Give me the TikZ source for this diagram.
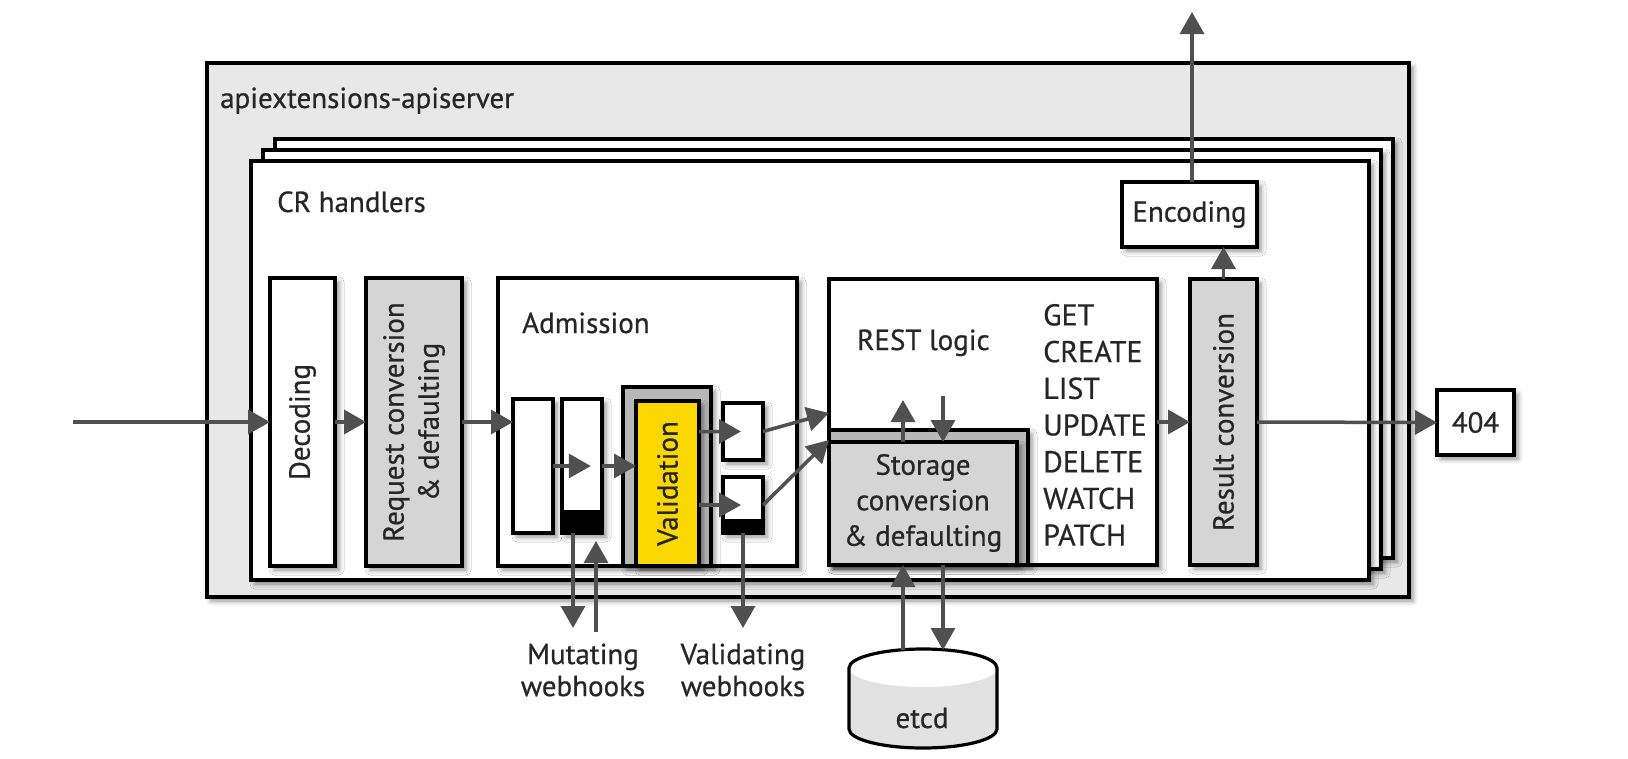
\documentclass[tikz,border=0pt]{standalone}
\usepackage{fontspec}
\setmainfont{PT Sans}[FakeBold=0.6]
\usetikzlibrary{arrows.meta,fit,calc,shadows.blur}
\definecolor{outerfill}{HTML}{E8E8E8}
\definecolor{boxgray}{HTML}{D5D5D5}
\definecolor{bandgray}{HTML}{B8B8B8}
\definecolor{valyellow}{HTML}{FAD700}
\definecolor{arrowgray}{HTML}{505050}
\definecolor{txt}{HTML}{262626}
\definecolor{etcdgray}{HTML}{E2E2E2}
\begin{document}
\begin{tikzpicture}[x=1pt,y=-1pt,
  bx/.style={draw=black, line width=3.4pt, fill=white, inner sep=0pt, outer sep=0pt,
    blur shadow={shadow xshift=4pt, shadow yshift=-4pt, shadow blur radius=5pt, shadow opacity=45}},
  band/.style={fill=black, draw=black, line width=0.5pt, inner sep=0pt, outer sep=0pt},
  lbl/.style={text=txt, font=\fontsize{29}{35}\selectfont, inner sep=0pt},
  arr/.style={draw=arrowgray, line width=3.5pt, -{Triangle[length=22pt,width=24pt]}}
]
\useasboundingbox (0,0) rectangle (1628,758);

% outer container
\node[bx, fill=outerfill, line width=3.6pt, fit={(207,63) (1409,597)}] (outer) {};
\node[lbl, anchor=base west] (outerlbl) at (220,108) {apiextensions-apiserver};

% stacked CR handler layers
\node[bx, fit={(275,139) (1393,558)}] (layer3) {};
\node[bx, fit={(263,150) (1381,569)}] (layer2) {};
\node[bx, fit={(251,161) (1369,580)}] (layer1) {};
\node[lbl, anchor=base west] (crlbl) at (277,212) {CR handlers};

% decoding and request conversion
\node[bx, fit={(270,278) (335,566)}] (dec) {};
\node[lbl, rotate=90] (dectxt) at (dec.center) {Decoding};
\node[bx, fill=boxgray, fit={(366,278) (462,566)}] (req) {};
\node[lbl, rotate=90, align=center] (reqtxt) at (req.center) {Request conversion\\\& defaulting};

% admission
\node[bx, fit={(498,278) (797,566)}] (adm) {};
\node[lbl, anchor=base west] (admlbl) at (522,333) {Admission};
\node[bx, fit={(513,399) (553,533)}] (wa) {};
\node[bx, fit={(562,399) (602,533)}] (wb) {};
\node[band, fit={(562,510) (602,533)}] (wbband) {};
\node[bx, fill=bandgray, fit={(623,387) (711,566)}] (valframe) {};
\node[bx, fill=valyellow, fit={(636,401) (699,566)}] (val) {};
\node[lbl, rotate=90] (valtxt) at (val.center) {Validation};
\node[bx, fit={(723,403) (763,460)}] (wc) {};
\node[bx, fit={(723,477) (763,533)}] (wd) {};
\node[band, fit={(723,519) (763,533)}] (wdband) {};

% REST logic and storage
\node[bx, fit={(829,279) (1157,565)}] (rest) {};
\node[lbl, anchor=base west] (restlbl) at (857,350) {REST logic};
\node[lbl, anchor=west, align=left, font=\fontsize{30}{36.7}\selectfont] (verbs) at (1043,425) {GET\\CREATE\\LIST\\UPDATE\\DELETE\\WATCH\\PATCH};
\node[bx, fill=bandgray, fit={(829,430) (1028,565)}] (storframe) {};
\node[bx, fill=boxgray, fit={(829,442) (1017,565)}] (stor) {};
\node[lbl, align=center, font=\fontsize{29}{35.5}\selectfont] (stortxt) at (923,503) {Storage\\conversion\\\& defaulting};

% result conversion, encoding, 404
\node[bx, fill=boxgray, fit={(1190,279) (1257,565)}] (res) {};
\node[lbl, rotate=90] (restxt) at (res.center) {Result conversion};
\node[bx, fit={(1122,182) (1257,247)}] (enc) {};
\node[lbl] (enctxt) at (enc.center) {Encoding};
\node[bx, fit={(1437,390) (1514,455)}] (nf) {};
\node[lbl] (nftxt) at (nf.center) {404};

% etcd cylinder
\fill[etcdgray] (849,668) -- (849,729) arc[start angle=180,end angle=360,x radius=74pt,y radius=19pt] -- (997,668) arc[start angle=0,end angle=180,x radius=74pt,y radius=19pt] -- cycle;
\fill[white] (923,668) ellipse[x radius=74pt, y radius=19pt];
\draw[line width=3.2pt] (849,668) -- (849,729) arc[start angle=180,end angle=360,x radius=74pt,y radius=19pt] -- (997,668) arc[start angle=0,end angle=180,x radius=74pt,y radius=19pt] -- cycle;
\node[lbl] (etcdlbl) at (922,718) {etcd};

% webhook labels
\node[lbl, align=center, font=\fontsize{29}{32}\selectfont] (mwtxt) at (583,670) {Mutating\\webhooks};
\node[lbl, align=center, font=\fontsize{29}{32}\selectfont] (vwtxt) at (743,670) {Validating\\webhooks};

% coordinates for free ends
\coordinate (inp) at (73,422);
\coordinate (outtop) at (1192,12);
\coordinate (su) at (903,400);
\coordinate (sd) at (943,396);
\coordinate (etu) at (903,650);
\coordinate (etd) at (943,650);
\coordinate (mwd) at (573,628);
\coordinate (mwu) at (596,632);
\coordinate (vwd) at (743,628);

% main flow
\draw[arr] (inp) -- (dec.west);
\draw[arr] (dec.east) -- (req.west);
\draw[arr] (req.east) -- (req.east -| wa.west);
\draw[arr] (wa.east) -- ($(wb.west)!0.72!(wb.east)$);
\draw[arr] (wb.east) -- (wb.east -| val.west);
\draw[arr] (val.east |- wc.west) -- ($(wc.west)!0.45!(wc.east)$);
\draw[arr] (val.east |- wd.west) -- ($(wd.west)!0.45!(wd.east)$);
\draw[arr] (wc.east) -- ($(rest.west)+(0,-9)$);
\draw[arr] (wd.east) -- ($(rest.west)+(0,18)$);
\draw[arr] (rest.east) -- (res.west);
\draw[arr] (res.east) -- (nf.west);
\draw[arr] (res.north) -- (res.north |- enc.south);
\draw[arr] (outtop |- enc.north) -- (outtop);

% storage arrows
\draw[arr] (su |- stor.north) -- (su);
\draw[arr] (sd) -- (sd |- stor.north);
\draw[arr] (etu) -- (etu |- stor.south);
\draw[arr] (etd |- stor.south) -- (etd);

% webhook arrows
\draw[arr] (mwd |- wb.south) -- (mwd);
\draw[arr] (mwu) -- ($(mwu |- wb.south)+(0,8)$);
\draw[arr] (vwd |- wd.south) -- (vwd);
\end{tikzpicture}
\end{document}
